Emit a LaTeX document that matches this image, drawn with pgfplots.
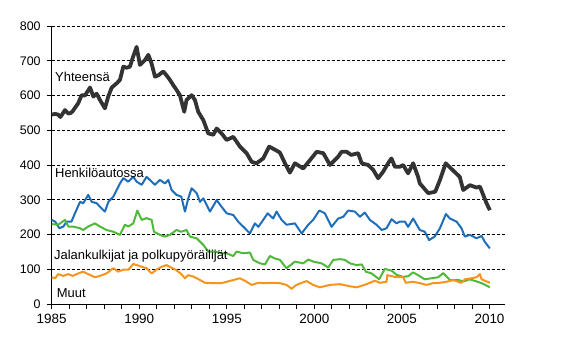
\documentclass[border=0pt]{standalone}
\usepackage{fontspec}
\setmainfont{Liberation Sans}
\usepackage{pgfplots}
\pgfplotsset{compat=1.18}
\definecolor{cTot}{RGB}{51,51,51}
\definecolor{cCar}{RGB}{30,110,188}
\definecolor{cPed}{RGB}{80,185,60}
\definecolor{cOth}{RGB}{247,148,30}
\begin{document}
\begin{tikzpicture}
\useasboundingbox (0,0) rectangle (571bp,354bp);
\begin{axis}[
  at={(51.67bp,50bp)}, anchor=south west,
  scale only axis, width=453.6bp, height=278bp,
  xmin=1985, xmax=2010.9, ymin=0, ymax=800,
  axis x line=bottom, axis y line=left,
  axis line style={-, black, line width=0.9bp},
  xtick={1985,1990,...,2010}, minor xtick={1986,1987,1988,1989,1991,1992,1993,1994,1996,1997,1998,1999,2001,2002,2003,2004,2006,2007,2008,2009},
  ytick={0,100,...,800},
  tick align=outside, major tick length=4.5bp, minor tick length=4.5bp,
  tick style={black, line width=0.9bp},
  ymajorgrids, grid style={black, line width=0.7bp, dash pattern=on 3bp off 2bp},
  /pgf/number format/assume math mode=true,
  /pgf/number format/1000 sep={},
  xticklabel style={font=\fontsize{13.5}{15}\selectfont, yshift=-2bp},
  yticklabel style={font=\fontsize{12.5}{14}\selectfont, xshift=-3bp},
  clip=false,
]
\addplot[cTot, line width=3.8bp, line join=round] coordinates {
(1985.0,545)(1985.2,547)(1985.37,545)(1985.5,538)(1985.76,558)(1985.95,548)(1986.1,550)(1986.2,555)(1986.52,578)(1986.71,601)(1986.9,600)(1987.19,623)(1987.38,597)(1987.57,605)(1987.76,587)(1988.04,563)(1988.23,597)(1988.43,623)(1988.71,635)(1988.9,645)(1989.09,683)(1989.28,680)(1989.47,683)(1989.62,707)(1989.85,740)(1990.04,688)(1990.33,702)(1990.52,717)(1990.7,693)(1990.9,654)(1991.09,658)(1991.37,669)(1991.56,658)(1991.75,645)(1991.94,630)(1992.13,616)(1992.32,601)(1992.57,553)(1992.7,587)(1992.99,601)(1993.18,587)(1993.37,553)(1993.66,529)(1993.94,491)(1994.23,487)(1994.42,505)(1994.7,491)(1994.99,472)(1995.37,481)(1995.75,453)(1996.13,434)(1996.42,409)(1996.7,405)(1997.08,419)(1997.42,453)(1997.75,444)(1998.03,436)(1998.32,405)(1998.6,378)(1998.89,405)(1999.36,390)(1999.75,414)(2000.13,438)(2000.51,434)(2000.89,400)(2001.36,424)(2001.55,438)(2001.84,438)(2002.1,429)(2002.5,434)(2002.7,405)(2003.07,400)(2003.36,386)(2003.64,362)(2003.93,381)(2004.21,405)(2004.4,419)(2004.6,395)(2004.88,395)(2005.07,400)(2005.35,376)(2005.64,405)(2005.92,366)(2006.02,347)(2006.5,319)(2006.9,323)(2007.17,357)(2007.5,405)(2007.8,390)(2008.3,366)(2008.5,328)(2008.88,342)(2009.26,335)(2009.45,338)(2009.64,314)(2009.83,290)(2010.02,270)
};
\addplot[cCar, line width=2bp, line join=round] coordinates {
(1985.0,242)(1985.2,237)(1985.44,218)(1985.67,223)(1985.85,237)(1986.13,237)(1986.33,261)(1986.62,294)(1986.8,290)(1987.09,314)(1987.29,294)(1987.57,290)(1987.85,275)(1988.04,266)(1988.24,294)(1988.52,309)(1988.71,328)(1988.9,347)(1989.09,362)(1989.38,352)(1989.66,366)(1989.85,352)(1990.14,343)(1990.42,366)(1990.71,352)(1990.9,343)(1991.18,357)(1991.47,347)(1991.66,357)(1991.85,328)(1992.13,314)(1992.4,309)(1992.61,266)(1992.8,304)(1992.99,333)(1993.28,319)(1993.47,294)(1993.66,304)(1994.04,266)(1994.42,299)(1994.7,280)(1994.99,261)(1995.37,256)(1995.65,237)(1996.03,218)(1996.32,203)(1996.6,232)(1996.8,222)(1997.08,242)(1997.33,261)(1997.65,246)(1997.84,266)(1998.13,242)(1998.41,228)(1998.89,232)(1999.27,203)(1999.65,228)(1999.93,242)(2000.28,269)(2000.6,261)(2000.98,222)(2001.36,246)(2001.65,251)(2001.93,269)(2002.31,266)(2002.6,251)(2002.88,263)(2003.17,242)(2003.55,228)(2003.84,213)(2004.12,218)(2004.41,244)(2004.69,232)(2004.88,237)(2005.17,237)(2005.35,222)(2005.64,246)(2006.02,213)(2006.3,208)(2006.55,184)(2006.87,194)(2007.17,218)(2007.51,259)(2007.74,246)(2008.12,237)(2008.4,218)(2008.59,194)(2008.88,199)(2009.26,189)(2009.55,196)(2009.73,179)(2010.02,160)
};
\addplot[cPed, line width=2bp, line join=round] coordinates {
(1985.0,230)(1985.37,228)(1985.76,242)(1985.95,223)(1986.2,223)(1986.62,218)(1986.8,213)(1987.09,223)(1987.47,232)(1987.76,223)(1988.13,213)(1988.52,208)(1988.9,199)(1989.18,228)(1989.38,223)(1989.66,232)(1989.89,269)(1990.14,242)(1990.42,247)(1990.71,242)(1990.84,208)(1991.18,199)(1991.47,194)(1991.75,199)(1992.13,213)(1992.4,208)(1992.7,213)(1992.9,194)(1993.28,189)(1993.66,170)(1993.94,151)(1994.33,151)(1994.7,146)(1994.99,146)(1995.37,138)(1995.56,151)(1995.94,146)(1996.32,148)(1996.51,127)(1996.89,117)(1997.18,114)(1997.46,138)(1997.75,131)(1998.03,127)(1998.41,103)(1998.89,122)(1999.36,117)(1999.65,128)(1999.93,122)(2000.41,117)(2000.79,105)(2001.08,127)(2001.46,129)(2001.74,127)(2002.03,117)(2002.41,112)(2002.7,114)(2002.94,93)(2003.27,88)(2003.7,71)(2004.02,101)(2004.41,96)(2004.69,84)(2005.07,78)(2005.35,80)(2005.64,91)(2006.02,80)(2006.3,71)(2006.68,74)(2007.07,77)(2007.36,89)(2007.74,69)(2008.21,69)(2008.5,65)(2008.88,71)(2009.26,65)(2009.64,58)(2010.02,48)
};
\addplot[cOth, line width=2bp, line join=round] coordinates {
(1985.0,77)(1985.2,74)(1985.37,86)(1985.67,81)(1985.95,86)(1986.2,81)(1986.52,88)(1986.8,93)(1987.09,86)(1987.47,77)(1987.76,81)(1988.13,88)(1988.52,103)(1988.8,93)(1989.09,99)(1989.38,99)(1989.66,115)(1990.04,109)(1990.42,103)(1990.71,88)(1990.99,99)(1991.28,107)(1991.56,112)(1991.75,107)(1992.13,97)(1992.4,86)(1992.61,74)(1992.8,83)(1993.09,79)(1993.47,69)(1993.75,61)(1994.23,60)(1994.7,60)(1994.99,64)(1995.37,69)(1995.75,74)(1996.03,67)(1996.42,55)(1996.8,61)(1997.27,60)(1997.65,61)(1998.03,60)(1998.41,55)(1998.7,44)(1998.98,55)(1999.55,66)(1999.93,55)(2000.31,48)(2000.89,55)(2001.46,57)(2002.03,51)(2002.41,48)(2002.98,57)(2003.45,67)(2003.74,61)(2004.12,64)(2004.16,83)(2004.6,78)(2005.07,77)(2005.22,61)(2005.64,64)(2006.02,60)(2006.4,55)(2006.78,60)(2007.17,61)(2007.55,64)(2007.93,69)(2008.4,61)(2008.59,71)(2008.97,74)(2009.26,77)(2009.45,86)(2009.55,71)(2010.02,61)
};
\node[anchor=west, inner sep=0pt, font=\fontsize{13}{15}\selectfont] at (axis cs:1985.19,653) {Yhteensä};
\node[anchor=west, inner sep=0pt, font=\fontsize{13}{15}\selectfont] at (axis cs:1985.19,376) {Henkilöautossa};
\node[anchor=west, inner sep=0pt, font=\fontsize{13}{15}\selectfont] at (axis cs:1985.13,139) {Jalankulkijat ja polkupyöräilijät};
\node[anchor=west, inner sep=0pt, font=\fontsize{13}{15}\selectfont] at (axis cs:1985.29,31) {Muut};
\end{axis}
\end{tikzpicture}
\end{document}
